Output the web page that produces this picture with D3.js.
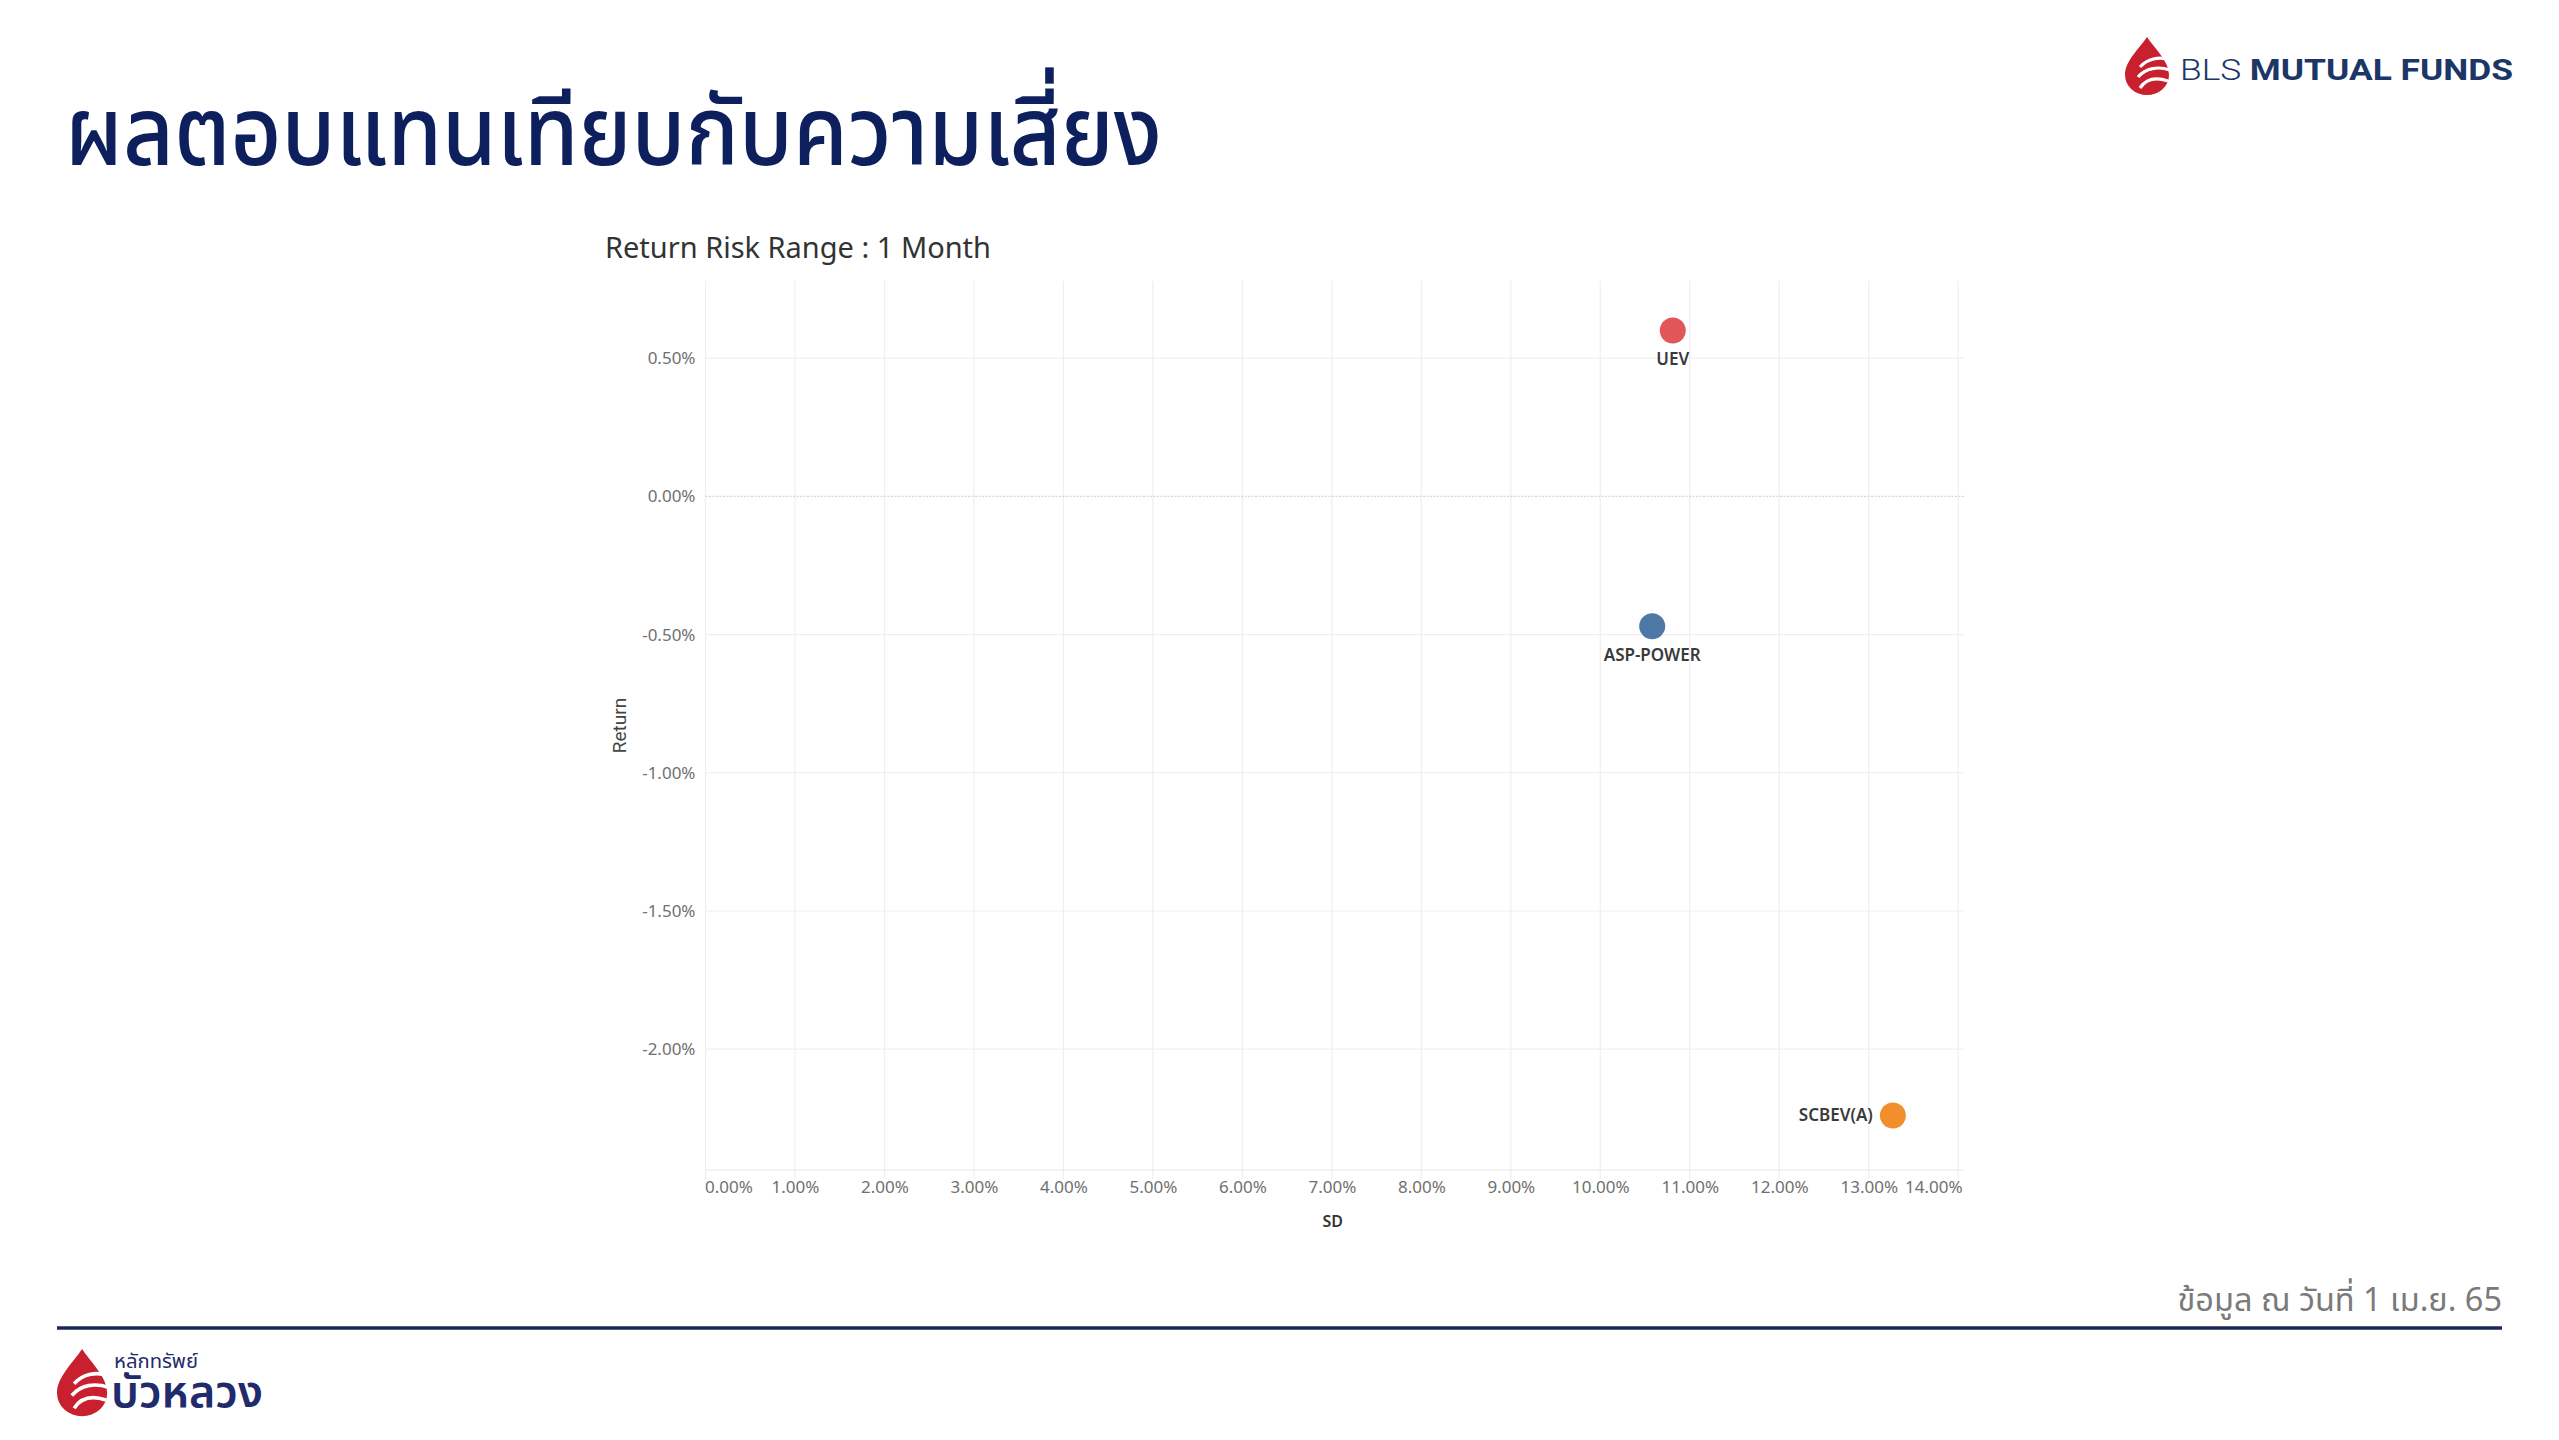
<!DOCTYPE html>
<html><head><meta charset="utf-8">
<script src="https://cdn.jsdelivr.net/npm/d3@7"></script>
<style>html,body{margin:0;padding:0;background:#fff;overflow:hidden}</style>
</head><body>
<svg id="c" width="2559" height="1440"></svg>
<script>
// ---- data ----
const funds = ["UEV", "ASP-POWER", "SCBEV(A)"];
const sdValues = [10.81, 10.58, 13.27];
const returnValues = [0.60, -0.47, -2.24];
const fundColors = ["#e15759", "#4e79a7", "#f28e2b"];
const labelSides = ["below", "below", "left"];
const xTickValues = [0, 1, 2, 3, 4, 5, 6, 7, 8, 9, 10, 11, 12, 13, 14];
const yTickValues = [0.5, 0, -0.5, -1, -1.5, -2];
const xDomain = [0, 14.02];
const yDomain = [-2.437, 0.779];
const pageTitle = "ผลตอบแทนเทียบกับความเสี่ยง";
const chartTitle = "Return Risk Range : 1 Month";
const xTitle = "SD";
const yTitle = "Return";
const footNote = "ข้อมูล ณ วันที่ 1 เม.ย. 65";

const svg = d3.select("#c");
const thai = "'Noto Sans Thai','Noto Sans Thai UI','Noto Sans Thai Looped','Noto Sans',sans-serif";
const navy = "#0d1f5c";

// ---- page title ----
svg.append("text").attr("x", 65).attr("y", 165)
  .attr("font-family", thai).attr("font-size", 96).attr("font-weight", 500)
  .attr("fill", navy).attr("textLength", 1097).attr("lengthAdjust", "spacingAndGlyphs")
  .text(pageTitle);

// ---- drop logo helper ----
function drop(g) {
  g.append("path").attr("d", "M22,0 C30,12 44,24 44,38 A22,20 0 0 1 0,38 C0,24 14,12 22,0 Z").attr("fill", "#c8202f");
  ["M15,30 C22,22 34,19 45,23", "M13,40 C21,31 33,29 45,33", "M15,51 C21,42 31,40 43,44"].forEach(d =>
    g.append("path").attr("d", d).attr("fill", "none").attr("stroke", "#fff").attr("stroke-width", 3.2));
}
// top-right logo
drop(svg.append("g").attr("transform", "translate(2125,37)"));
const lt = svg.append("text").attr("x", 2180).attr("y", 80)
  .attr("font-family", "Roboto, 'Noto Sans', sans-serif").attr("font-size", 30).attr("fill", "#1c3668")
  .attr("textLength", 333).attr("lengthAdjust", "spacingAndGlyphs");
lt.append("tspan").attr("font-weight", 300).text("BLS ");
lt.append("tspan").attr("font-weight", 700).text("MUTUAL FUNDS");

// bottom-left logo (stacked wordmark)
drop(svg.append("g").attr("transform", "translate(57,1349) scale(1.14,1.16)"));
svg.append("text").attr("x", 114).attr("y", 1368).attr("font-family", thai).attr("font-size", 19)
  .attr("fill", "#1f2b6b").attr("textLength", 84).attr("lengthAdjust", "spacingAndGlyphs").text("หลักทรัพย์");
svg.append("text").attr("x", 111).attr("y", 1407).attr("font-family", thai).attr("font-size", 44).attr("font-weight", 600)
  .attr("fill", "#1f2b6b").attr("textLength", 152).attr("lengthAdjust", "spacingAndGlyphs").text("บัวหลวง");

// footer
svg.append("line").attr("x1", 57).attr("x2", 2502).attr("y1", 1328).attr("y2", 1328)
  .attr("stroke", "#1b2856").attr("stroke-width", 3.5);
svg.append("text").attr("x", 2502).attr("y", 1311).attr("text-anchor", "end")
  .attr("font-family", thai).attr("font-size", 32.5).attr("fill", "#7a7a7a").text(footNote);

// ---- chart ----
const L = 705.5, R = 1960, T = 281, B = 1170;
const x = d3.scaleLinear().domain(xDomain).range([L, R]);
const y = d3.scaleLinear().domain(yDomain).range([B, T]);
const grid = "#efefef";

svg.append("text").attr("x", 605).attr("y", 258).attr("font-family", "'Noto Sans',sans-serif")
  .attr("font-size", 28.5).attr("fill", "#333").attr("textLength", 386).attr("lengthAdjust", "spacingAndGlyphs")
  .text(chartTitle);

// vertical gridlines (extending a little below as tick marks)
svg.append("g").selectAll("line").data(xTickValues).join("line")
  .attr("x1", d => x(d)).attr("x2", d => x(d)).attr("y1", T).attr("y2", B + 9)
  .attr("stroke", grid).attr("stroke-width", 1.2);
// horizontal gridlines
svg.append("g").selectAll("line").data(yTickValues.filter(d => d !== 0)).join("line")
  .attr("x1", L).attr("x2", R + 4).attr("y1", d => y(d)).attr("y2", d => y(d))
  .attr("stroke", grid).attr("stroke-width", 1.2);
// zero line
svg.append("line").attr("x1", L).attr("x2", R + 4).attr("y1", y(0)).attr("y2", y(0))
  .attr("stroke", "#d6d6d6").attr("stroke-width", 1.2).attr("stroke-dasharray", "2,1.5");
// bottom line
svg.append("line").attr("x1", L).attr("x2", R + 4).attr("y1", B).attr("y2", B)
  .attr("stroke", "#e8e8e8").attr("stroke-width", 1.2);

const tickFont = "'Noto Sans',sans-serif";
// y axis labels
const yAxis = d3.axisLeft(y).tickValues(yTickValues).tickSize(0).tickPadding(0)
  .tickFormat(d => d.toFixed(2) + "%");
const gy = svg.append("g").attr("transform", `translate(${L - 10},0)`).call(yAxis);
gy.select(".domain").remove();
gy.selectAll("text").attr("font-family", tickFont).attr("font-size", 17).attr("fill", "#707070");

// x axis labels
const xAxis = d3.axisBottom(x).tickValues(xTickValues).tickSize(0).tickPadding(0)
  .tickFormat(d => d.toFixed(2) + "%");
const gx = svg.append("g").attr("transform", `translate(0,${B + 11})`).call(xAxis);
gx.select(".domain").remove();
gx.selectAll("text").attr("font-family", tickFont).attr("font-size", 17).attr("fill", "#707070")
  .attr("text-anchor", d => d === xTickValues[0] ? "start" : (d === xTickValues[xTickValues.length - 1] ? "end" : "middle"))
  .attr("dx", d => d === xTickValues[0] ? "-1" : (d === xTickValues[xTickValues.length - 1] ? "4" : "0"));

// axis titles
svg.append("text").attr("x", (L + R) / 2).attr("y", 1227).attr("text-anchor", "middle")
  .attr("font-family", tickFont).attr("font-size", 16).attr("font-weight", 600).attr("fill", "#333").text(xTitle);
svg.append("text").attr("transform", `translate(626,${(T + B) / 2}) rotate(-90)`).attr("text-anchor", "middle")
  .attr("font-family", "'Liberation Sans Narrow',Roboto,sans-serif").attr("font-size", 19).attr("fill", "#444").text(yTitle);

// points
const pts = funds.map((f, i) => ({ name: f, sd: sdValues[i], ret: returnValues[i], color: fundColors[i], side: labelSides[i] }));
svg.append("g").selectAll("circle").data(pts).join("circle")
  .attr("cx", d => x(d.sd)).attr("cy", d => y(d.ret)).attr("r", 13).attr("fill", d => d.color);
svg.append("g").selectAll("text").data(pts).join("text")
  .attr("x", d => d.side === "left" ? x(d.sd) - 20 : x(d.sd))
  .attr("y", d => d.side === "left" ? y(d.ret) : y(d.ret) + 29)
  .attr("dy", "0.35em")
  .attr("text-anchor", d => d.side === "left" ? "end" : "middle")
  .attr("font-family", tickFont).attr("font-size", 17).attr("font-weight", 600).attr("fill", "#3a3a3a")
  .text(d => d.name);
</script>
</body></html>
